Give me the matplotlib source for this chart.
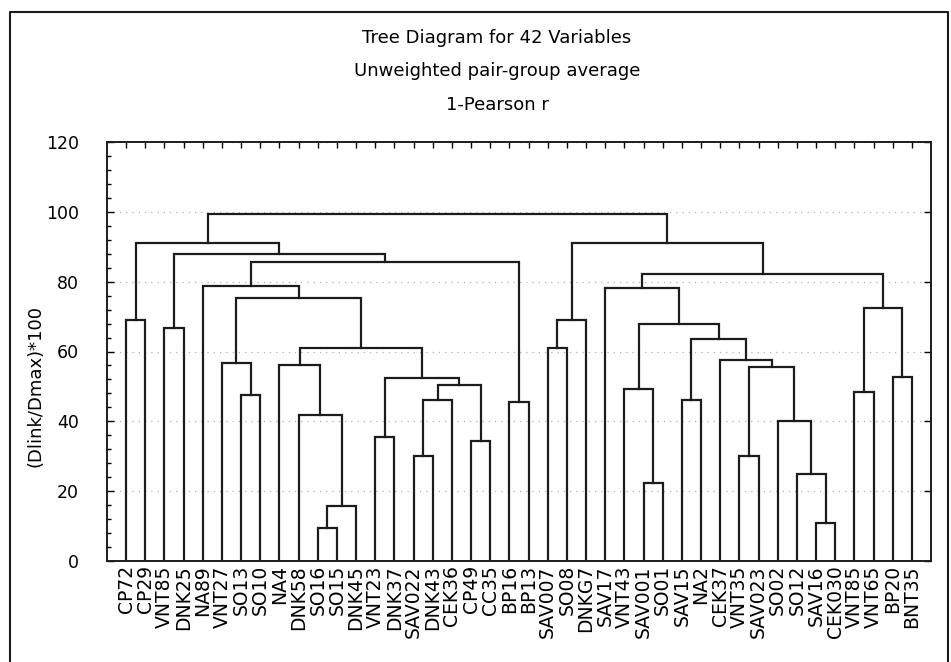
import matplotlib
matplotlib.use("Agg")
import matplotlib.pyplot as plt
from matplotlib.ticker import MultipleLocator
from matplotlib.lines import Line2D

plt.rcParams['font.family'] = ['DejaVu Sans']

# ---- data ----
leaf_labels = ["CP72", "CP29", "VNT85", "DNK25", "NA89", "VNT27", "SO13", "SO10", "NA4",
               "DNK58", "SO16", "SO15", "DNK45", "VNT23", "DNK37", "SAV022", "DNK43",
               "CEK36", "CP49", "CC35", "BP16", "BP13", "SAV007", "SO08", "DNKG7", "SAV17",
               "VNT43", "SAV001", "SO01", "SAV15", "NA2", "CEK37", "VNT35", "SAV023",
               "SO02", "SO12", "SAV16", "CEK030", "VNT85", "VNT65", "BP20", "BNT35"]

# linkage: (left child id, right child id); leaves are 0..41, new clusters 42..
merge_left = [10, 36, 42, 27, 35, 15, 32, 18, 13, 34, 9, 20, 29, 47, 6, 38, 26, 55, 50, 40,
              48, 8, 5, 31, 22, 63, 54, 2, 58, 0, 66, 57, 64, 25, 4, 75, 76, 69, 71, 72, 80]
merge_right = [11, 37, 12, 28, 43, 16, 33, 19, 14, 46, 44, 21, 30, 17, 7, 39, 45, 49, 59, 41,
               51, 52, 56, 62, 23, 60, 65, 3, 68, 1, 24, 61, 67, 70, 74, 73, 53, 78, 79, 77, 81]
merge_height = [9.5, 10.9, 15.8, 22.4, 25.0, 30.1, 30.1, 34.3, 35.6, 40.0, 41.9, 45.4, 46.2,
                46.2, 47.4, 48.3, 49.4, 50.5, 52.5, 52.7, 55.6, 56.1, 56.7, 57.5, 60.9, 61.1,
                63.6, 66.6, 68.0, 68.9, 69.1, 72.5, 75.2, 78.3, 78.8, 82.1, 85.5, 88.0, 91.0,
                91.2, 99.4]

title_lines = ["Tree Diagram for 42 Variables", "Unweighted pair-group average", "1-Pearson r"]
y_label = "(Dlink/Dmax)*100"

# ---- figure ----
W, H = 951, 662
fig = plt.figure(figsize=(W / 100, H / 100), dpi=100)
ax = fig.add_axes([107 / W, 1 - 561 / H, (931 - 107) / W, (561 - 142) / H])

n = len(leaf_labels)
xpos = {i: i + 1 for i in range(n)}
hpos = {i: 0.0 for i in range(n)}
line_color = '#1c1c1c'
for k, (a, b, h) in enumerate(zip(merge_left, merge_right, merge_height)):
    cid = n + k
    xa, xb = xpos[a], xpos[b]
    ax.plot([xa, xa, xb, xb], [hpos[a], h, h, hpos[b]], color=line_color, lw=1.6,
            solid_joinstyle='miter', zorder=3)
    xpos[cid] = (xa + xb) / 2
    hpos[cid] = h

ax.set_xlim(0, n + 1)
ax.set_ylim(0, 120)

ax.set_xticks([i + 1 for i in range(n)])
ax.set_xticklabels(leaf_labels, rotation=90, fontsize=13.5)
ax.tick_params(axis='x', bottom=False, top=True, direction='in', length=4, width=1,
               labelbottom=True, pad=3)

ax.yaxis.set_major_locator(MultipleLocator(20))
ax.yaxis.set_minor_locator(MultipleLocator(4))
ax.tick_params(axis='y', which='major', left=True, right=True, direction='in', length=5,
               width=1, labelsize=12.5, pad=20)
ax.tick_params(axis='y', which='minor', left=True, right=False, direction='in', length=3,
               width=1)

ax.yaxis.grid(True, which='major', linestyle=(0, (1, 4)), color='#b0b0b0', lw=0.9, zorder=0)
ax.set_axisbelow(True)
for s in ax.spines.values():
    s.set_linewidth(1.4)
    s.set_color('#1c1c1c')

# titles
for txt, y in zip(title_lines, [38, 71, 105]):
    fig.text(497 / W, 1 - y / H, txt, ha='center', va='center', fontsize=13)

fig.text(36 / W, 1 - 386 / H, y_label, ha='center', va='center', rotation=90, fontsize=13)

# outer border (top, left, right)
fig.add_artist(Line2D([10 / W, 10 / W, 948 / W, 948 / W],
                      [0, 1 - 12 / H, 1 - 12 / H, 0], transform=fig.transFigure,
                      color='#1c1c1c', lw=1.5))

fig.savefig("out.png", dpi=100)
